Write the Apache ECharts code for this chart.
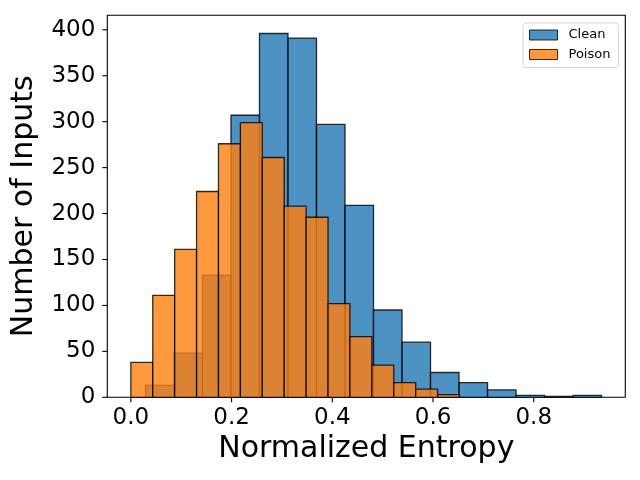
<!DOCTYPE html>
<html lang="en">
<head>
  <meta charset="UTF-8">
  <title>Normalized Entropy</title>
  <style>
    html, body { margin: 0; padding: 0; background: #fff; }
    #main { width: 640px; height: 480px; }
  </style>
  <script src="https://cdn.jsdelivr.net/npm/echarts@6/dist/echarts.min.js"></script>
</head>
<body>
  <div id="main"></div>
  <script>
    // histogram bins (start edge, width, count per bin)
    var cleanStart = 0.029;
    var cleanWidth = 0.0566;
    var cleanCounts = [13, 48, 133, 307, 396, 391, 297, 209, 95, 60, 27, 16, 8, 2, 1, 2];

    var poisonStart = 0.0;
    var poisonWidth = 0.0435;
    var poisonCounts = [38, 111, 161, 224, 276, 299, 261, 208, 196, 102, 66, 35, 16, 9, 3];

    var xTicks = [0.0, 0.2, 0.4, 0.6, 0.8];
    var yTicks = [0, 50, 100, 150, 200, 250, 300, 350, 400];

    var xMin = -0.04675, xMax = 0.98175;
    var yMin = 0, yMax = 415.8;
    var tickLen = 5;

    function toBins(start, width, counts) {
      return counts.map(function (c, i) {
        return [start + i * width, start + (i + 1) * width, c];
      });
    }

    function renderBar(params, api) {
      var p0 = api.coord([api.value(0), api.value(2)]);
      var p1 = api.coord([api.value(1), 0]);
      return {
        type: 'rect',
        shape: { x: p0[0], y: p0[1], width: p1[0] - p0[0], height: p1[1] - p0[1] },
        style: {
          fill: api.visual('color'),
          stroke: 'rgba(0,0,0,0.8)',
          lineWidth: 1.3
        }
      };
    }

    var font = 'DejaVu Sans';
    var chart = echarts.init(document.getElementById('main'));

    var option = {
      animation: false,
      grid: {
        left: 107.3, right: 14.7, top: 15.3, bottom: 82.7,
        show: true, borderColor: '#000', borderWidth: 1.1
      },
      legend: {
        orient: 'vertical',
        left: 523, top: 23,
        padding: [5, 8, 6, 6],
        itemWidth: 28, itemHeight: 10, itemGap: 5.5,
        backgroundColor: '#fff',
        borderColor: '#d6d6d6', borderWidth: 1, borderRadius: 3,
        textStyle: { fontFamily: font, fontSize: 13, color: '#000', lineHeight: 14, padding: [0, 0, 0, 6] },
        data: [
          { name: 'Clean', icon: 'rect', itemStyle: { color: 'rgba(31,119,180,0.8)', borderColor: 'rgba(0,0,0,0.8)', borderWidth: 1 } },
          { name: 'Poison', icon: 'rect', itemStyle: { color: 'rgba(255,127,14,0.8)', borderColor: 'rgba(0,0,0,0.8)', borderWidth: 1 } }
        ]
      },
      xAxis: {
        type: 'value',
        min: xMin, max: xMax,
        name: 'Normalized Entropy',
        nameLocation: 'middle', nameGap: 36,
        nameTextStyle: { fontFamily: font, fontSize: 30, color: '#000' },
        axisLine: { show: false, onZero: false },
        axisTick: { show: false },
        axisLabel: {
          fontFamily: font, fontSize: 23, color: '#000', margin: 9,
          customValues: xTicks,
          formatter: function (v) { return v.toFixed(1); }
        },
        splitLine: { show: false }
      },
      yAxis: {
        type: 'value',
        min: yMin, max: yMax,
        name: 'Number of Inputs',
        nameLocation: 'middle', nameGap: 68,
        nameTextStyle: { fontFamily: font, fontSize: 30, color: '#000' },
        axisLine: { show: false, onZero: false },
        axisTick: { show: false },
        axisLabel: { fontFamily: font, fontSize: 23, color: '#000', margin: 12, customValues: yTicks },
        splitLine: { show: false }
      },
      series: [
        {
          name: 'Clean',
          type: 'custom',
          renderItem: renderBar,
          itemStyle: { color: 'rgba(31,119,180,0.8)' },
          encode: { x: [0, 1], y: 2 },
          data: toBins(cleanStart, cleanWidth, cleanCounts)
        },
        {
          name: 'Poison',
          type: 'custom',
          renderItem: renderBar,
          itemStyle: { color: 'rgba(255,127,14,0.8)' },
          encode: { x: [0, 1], y: 2 },
          data: toBins(poisonStart, poisonWidth, poisonCounts)
        }
      ]
    };

    chart.setOption(option);

    // outward tick marks, placed with the chart's own scales
    var ticks = [];
    xTicks.forEach(function (v) {
      var p = chart.convertToPixel({ gridIndex: 0 }, [v, yMin]);
      ticks.push({
        type: 'line', silent: true, z: 10,
        shape: { x1: p[0], y1: p[1], x2: p[0], y2: p[1] + tickLen },
        style: { stroke: '#000', lineWidth: 1.1 }
      });
    });
    yTicks.forEach(function (v) {
      var p = chart.convertToPixel({ gridIndex: 0 }, [xMin, v]);
      ticks.push({
        type: 'line', silent: true, z: 10,
        shape: { x1: p[0] - tickLen, y1: p[1], x2: p[0], y2: p[1] },
        style: { stroke: '#000', lineWidth: 1.1 }
      });
    });
    chart.setOption({ graphic: ticks });
  </script>
</body>
</html>
